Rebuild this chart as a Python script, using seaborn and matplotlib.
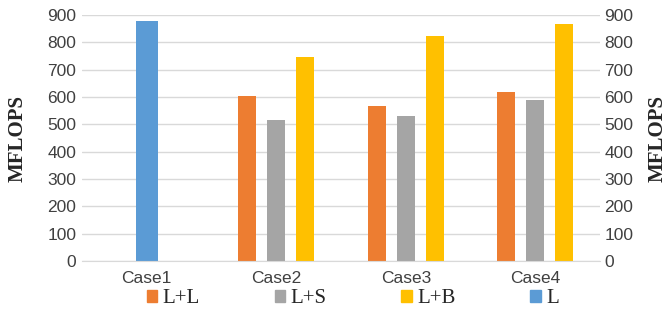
import pandas as pd
import seaborn as sns
from matplotlib import pyplot as plt
from matplotlib.patches import Patch

cases = ['Case1', 'Case2', 'Case3', 'Case4']
series = ['L+L', 'L+S', 'L+B']
l_l = [None, 604, 567, 618]
l_s = [None, 516, 532, 589]
l_b = [None, 746, 823, 867]
l_only = [878]
colors = {'L+L': '#ed7d31', 'L+S': '#a5a5a5', 'L+B': '#ffc000', 'L': '#5b9bd5'}

rows = []
for name, vals in zip(series, [l_l, l_s, l_b]):
    for c, v in zip(cases, vals):
        rows.append({'case': c, 'series': name, 'val': v})
df = pd.DataFrame(rows)
df_l = pd.DataFrame({'case': cases[:1], 'val': l_only})

sns.set_style('white')
plt.rcParams['font.family'] = ['Liberation Sans', 'DejaVu Sans']

fig = plt.figure(figsize=(6.72, 3.22), dpi=100)
ax = fig.add_axes([0.122, 0.189, 0.771, 0.764])

sns.barplot(data=df, x='case', y='val', hue='series', order=cases, hue_order=series,
            palette=colors, width=0.672, gap=0.37, saturation=1, legend=False, ax=ax)
sns.barplot(data=df_l, x='case', y='val', order=cases, color=colors['L'],
            width=0.17, saturation=1, ax=ax)
for p in ax.patches:
    p.set_edgecolor('none')

ax.set_ylim(0, 900)
ax.set_xlim(-0.5, 3.5)
ax.set_yticks(range(0, 901, 100))
ax.yaxis.grid(True, color='#d9d9d9', lw=1)
ax.set_axisbelow(True)
for s in ['top', 'right', 'left']:
    ax.spines[s].set_visible(False)
ax.spines['bottom'].set_color('#d9d9d9')
ax.tick_params(axis='both', colors='#404040', labelsize=12.5, length=0)
ax.tick_params(axis='x', pad=7)
ax.tick_params(axis='y', pad=4)
ax.set_xlabel('')
ax.set_ylabel('MFLOPS', family='Liberation Serif', fontweight='bold', fontsize=15, labelpad=14)

ax2 = ax.twinx()
ax2.set_ylim(0, 900)
ax2.set_yticks(range(0, 901, 100))
for s in ax2.spines.values():
    s.set_visible(False)
ax2.tick_params(axis='y', colors='#404040', labelsize=12.5, length=0, pad=3)
ax2.set_ylabel('MFLOPS', family='Liberation Serif', fontweight='bold', fontsize=15, labelpad=10)

handles = [Patch(color=colors[k]) for k in ['L+L', 'L+S', 'L+B', 'L']]
fig.legend(handles, ['L+L', 'L+S', 'L+B', 'L'], loc='center', bbox_to_anchor=(0.525, 0.072),
           ncol=4, frameon=False, handlelength=0.5, handleheight=0.5, handletextpad=0.25,
           columnspacing=3.6, prop={'family': 'Liberation Serif', 'size': 15})

plt.savefig('out.png', dpi=100)
